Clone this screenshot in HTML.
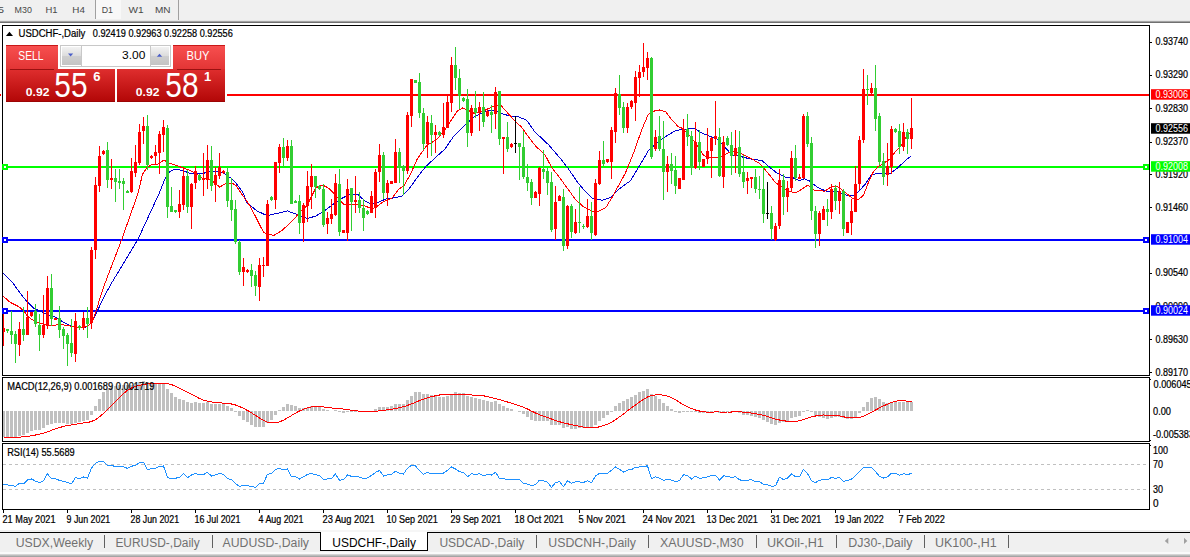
<!DOCTYPE html>
<html><head><meta charset="utf-8"><title>USDCHF-,Daily</title>
<style>html,body{margin:0;padding:0;background:#fff;overflow:hidden}body{width:1190px;height:557px;position:relative}svg{position:absolute;left:0;top:0;display:block}text{font-family:"Liberation Sans",sans-serif;white-space:pre}</style>
</head><body>
<svg width="1190" height="557" viewBox="0 0 1190 557">
<defs>
<linearGradient id="gRed" x1="0" y1="0" x2="0" y2="1"><stop offset="0" stop-color="#f54d4d"/><stop offset="0.45" stop-color="#d62424"/><stop offset="1" stop-color="#b80808"/></linearGradient>
<linearGradient id="gRedTop" x1="0" y1="0" x2="0" y2="1"><stop offset="0" stop-color="#f85050"/><stop offset="1" stop-color="#e23434"/></linearGradient>
<linearGradient id="gRedLow" x1="0" y1="0" x2="0" y2="1"><stop offset="0" stop-color="#df2e2e"/><stop offset="1" stop-color="#b20606"/></linearGradient>
<linearGradient id="gBtn" x1="0" y1="0" x2="0" y2="1"><stop offset="0" stop-color="#f2f2f2"/><stop offset="0.5" stop-color="#dcdcdc"/><stop offset="0.5" stop-color="#cfcfcf"/><stop offset="1" stop-color="#c4c4c4"/></linearGradient>
</defs>
<rect x="0" y="0" width="1190" height="557" fill="#ffffff"/>
<g shape-rendering="crispEdges">
<rect x="0" y="0" width="1190" height="20" fill="#f0f0f0"/>
<rect x="96" y="0" width="25" height="19" fill="#f8f8f8"/>
<rect x="95" y="0" width="1" height="19" fill="#a0a0a0"/>
<rect x="178" y="0" width="1" height="20" fill="#a0a0a0"/>
<rect x="0" y="20" width="1190" height="1" fill="#e6e6e6"/>
<rect x="0" y="21" width="1190" height="1" fill="#a2a2a2"/>
<rect x="0" y="22" width="1190" height="1" fill="#707070"/>
</g>
<text x="-2" y="12.9" font-size="9" fill="#484848" textLength="6" lengthAdjust="spacingAndGlyphs" >5</text>
<text x="14.6" y="12.9" font-size="9" fill="#484848" textLength="17.3" lengthAdjust="spacingAndGlyphs" >M30</text>
<text x="45.4" y="12.9" font-size="9" fill="#484848" textLength="12.1" lengthAdjust="spacingAndGlyphs" >H1</text>
<text x="72.3" y="12.9" font-size="9" fill="#484848" textLength="12.6" lengthAdjust="spacingAndGlyphs" >H4</text>
<text x="101.7" y="12.9" font-size="9" fill="#484848" textLength="11.3" lengthAdjust="spacingAndGlyphs" >D1</text>
<text x="128.6" y="12.9" font-size="9" fill="#484848" textLength="15.1" lengthAdjust="spacingAndGlyphs" >W1</text>
<text x="155" y="12.9" font-size="9" fill="#484848" textLength="15.6" lengthAdjust="spacingAndGlyphs" >MN</text>
<g shape-rendering="crispEdges">
<rect x="227" y="94" width="922" height="2" fill="#ff0000"/>
<rect x="3" y="166" width="1146" height="2" fill="#00ff00"/>
<rect x="3" y="239" width="1146" height="2" fill="#0000ff"/>
<rect x="3" y="310" width="1146" height="2" fill="#0000ff"/>
</g>
<polyline points="3.0,273.3 12.6,282.6 16.9,288.8 25.3,299.7 33.8,308.2 44.0,313.0 55.7,317.4 64.1,322.5 71.7,326.2 79.3,327.9 86.0,327.2 92.0,322.5 97.9,309.8 104.6,295.5 112.2,282.0 137.8,239.6 158.9,194.0 164.8,179.3 169.8,171.7 174.9,169.2 183.3,170.5 188.4,172.9 196.8,173.8 203.6,173.4 208.6,171.4 218.8,171.4 224.0,173.4 231.4,178.5 235.7,182.7 242.9,192.5 246.8,202.4 256.9,210.9 267.0,215.6 277.1,213.4 287.3,210.9 297.4,214.6 307.5,218.5 316.0,216.0 324.4,210.9 334.5,203.3 341.3,198.6 349.7,194.4 358.1,194.8 364.9,200.9 371.6,204.5 380.0,201.6 386.8,198.6 391.9,198.2 402.0,196.1 408.8,189.3 417.2,177.5 425.7,166.5 436.9,156.3 445.3,148.7 453.8,136.0 463.9,125.9 474.3,116.8 484.4,111.7 492.8,110.0 501.3,113.4 509.7,116.0 518.1,116.8 526.6,120.2 534.8,131.8 548.3,144.5 560.0,158.0 568.5,168.9 577.0,181.6 585.4,191.7 592.2,198.0 602.3,200.2 610.7,197.6 616.9,191.0 623.0,186.0 630.4,180.9 640.5,164.0 649.0,149.7 659.0,141.2 667.5,135.3 676.0,130.3 684.4,129.4 694.5,128.2 701.3,132.8 709.7,136.2 718.1,139.5 724.9,147.1 731.6,154.7 740.0,156.4 750.2,158.9 762.0,160.6 768.8,166.5 777.2,173.3 785.7,177.5 792.4,177.5 799.3,180.5 804.4,178.8 809.5,181.0 817.9,187.7 828.0,191.9 838.1,191.9 846.6,195.3 853.3,195.7 858.4,191.9 865.1,184.3 871.1,175.2 877.9,173.0 889.7,173.9 898.1,167.6 904.9,160.9 910.8,156.2" fill="none" stroke="#0000d0" stroke-width="1" shape-rendering="crispEdges"/>
<polyline points="3.4,296.3 10.1,302.3 18.6,306.5 23.6,310.7 27.8,316.6 33.8,320.8 40.5,323.4 50.6,325.5 60.8,324.5 70.9,326.2 81.0,327.6 87.8,325.9 92.0,322.5 96.2,310.7 101.3,293.8 105.5,282.0 121.7,239.6 137.8,194.0 142.5,174.3 147.0,167.5 151.3,165.0 158.0,164.0 164.0,160.0 168.0,162.8 175.0,165.0 183.3,168.0 190.0,170.5 195.0,173.0 202.0,178.0 207.8,179.3 212.0,180.7 219.6,187.0 225.5,183.9 231.5,183.0 235.7,185.2 241.7,194.0 250.0,205.8 256.9,219.3 263.6,232.5 273.8,235.4 282.2,230.3 289.0,224.0 295.7,217.6 299.0,212.6 306.7,205.8 310.9,197.8 316.0,187.6 322.7,185.1 327.8,187.6 332.8,192.2 338.0,198.0 344.0,204.5 354.8,204.1 364.9,205.8 371.6,208.9 376.7,206.7 383.5,201.6 391.9,198.4 398.6,189.3 403.7,186.0 410.5,174.1 417.2,159.0 426.8,145.3 436.9,139.4 445.6,128.6 450.6,121.0 457.4,110.9 462.4,108.0 469.2,110.9 474.3,113.4 481.0,112.2 487.8,108.9 494.5,105.8 501.3,105.8 508.0,113.4 516.5,122.7 521.3,126.8 529.7,138.6 536.5,147.0 544.9,154.6 551.6,167.3 560.0,178.2 566.8,187.5 575.3,199.3 583.7,206.9 592.2,211.1 598.9,211.1 605.7,207.8 612.4,196.8 616.9,188.5 625.3,173.3 633.8,152.2 642.2,128.6 648.2,114.5 654.1,111.1 659.2,109.9 666.0,112.0 671.0,118.7 677.8,126.3 682.7,128.6 689.5,135.3 696.2,143.8 703.0,154.7 708.0,157.8 719.8,157.3 728.3,153.0 735.0,151.4 743.5,154.7 751.9,158.9 760.3,164.0 768.8,174.1 775.5,182.6 787.5,191.0 796.0,192.8 802.7,188.6 807.8,185.2 814.5,190.3 824.6,191.1 831.4,186.9 838.1,186.9 844.9,191.9 851.6,197.8 858.4,199.5 863.5,195.3 867.8,184.0 872.8,172.7 877.9,166.8 884.6,162.6 889.7,159.2 894.8,152.4 899.8,147.4 904.9,138.9 910.0,133.0" fill="none" stroke="#ff0000" stroke-width="1" shape-rendering="crispEdges"/>
<g shape-rendering="crispEdges"><rect x="3" y="313" width="1" height="33" fill="#ff0000"/><rect x="3" y="328" width="2" height="4" fill="#ff0000"/><rect x="7" y="329" width="1" height="4" fill="#32cd32"/><rect x="6" y="329" width="3" height="2" fill="#32cd32"/><rect x="11" y="311" width="1" height="33" fill="#32cd32"/><rect x="10" y="331" width="3" height="4" fill="#32cd32"/><rect x="15" y="331" width="1" height="32" fill="#32cd32"/><rect x="14" y="334" width="3" height="10" fill="#32cd32"/><rect x="19" y="322" width="1" height="34" fill="#ff0000"/><rect x="18" y="329" width="3" height="16" fill="#ff0000"/><rect x="23" y="307" width="1" height="34" fill="#32cd32"/><rect x="22" y="329" width="3" height="6" fill="#32cd32"/><rect x="27" y="291" width="1" height="44" fill="#ff0000"/><rect x="26" y="317" width="3" height="18" fill="#ff0000"/><rect x="31" y="312" width="1" height="5" fill="#ff0000"/><rect x="30" y="312" width="3" height="4" fill="#ff0000"/><rect x="35" y="304" width="1" height="23" fill="#32cd32"/><rect x="34" y="311" width="3" height="13" fill="#32cd32"/><rect x="39" y="314" width="1" height="37" fill="#32cd32"/><rect x="38" y="325" width="3" height="10" fill="#32cd32"/><rect x="43" y="295" width="1" height="43" fill="#ff0000"/><rect x="42" y="325" width="3" height="10" fill="#ff0000"/><rect x="47" y="276" width="1" height="53" fill="#ff0000"/><rect x="46" y="288" width="3" height="38" fill="#ff0000"/><rect x="51" y="274" width="1" height="52" fill="#32cd32"/><rect x="50" y="288" width="3" height="31" fill="#32cd32"/><rect x="55" y="318" width="1" height="2" fill="#ff0000"/><rect x="54" y="318" width="3" height="2" fill="#ff0000"/><rect x="59" y="306" width="1" height="32" fill="#32cd32"/><rect x="58" y="318" width="3" height="12" fill="#32cd32"/><rect x="63" y="327" width="1" height="22" fill="#32cd32"/><rect x="62" y="329" width="3" height="7" fill="#32cd32"/><rect x="67" y="333" width="1" height="33" fill="#32cd32"/><rect x="66" y="335" width="3" height="9" fill="#32cd32"/><rect x="71" y="319" width="1" height="38" fill="#32cd32"/><rect x="70" y="343" width="3" height="10" fill="#32cd32"/><rect x="75" y="313" width="1" height="49" fill="#ff0000"/><rect x="74" y="321" width="3" height="33" fill="#ff0000"/><rect x="79" y="325" width="1" height="5" fill="#32cd32"/><rect x="78" y="326" width="3" height="2" fill="#32cd32"/><rect x="83" y="312" width="1" height="18" fill="#ff0000"/><rect x="82" y="318" width="3" height="10" fill="#ff0000"/><rect x="87" y="307" width="1" height="31" fill="#32cd32"/><rect x="86" y="318" width="3" height="6" fill="#32cd32"/><rect x="91" y="247" width="1" height="82" fill="#ff0000"/><rect x="90" y="250" width="3" height="73" fill="#ff0000"/><rect x="95" y="177" width="1" height="82" fill="#ff0000"/><rect x="94" y="185" width="3" height="65" fill="#ff0000"/><rect x="99" y="146" width="1" height="46" fill="#ff0000"/><rect x="98" y="156" width="3" height="30" fill="#ff0000"/><rect x="103" y="150" width="1" height="5" fill="#ff0000"/><rect x="102" y="151" width="3" height="3" fill="#ff0000"/><rect x="107" y="142" width="1" height="46" fill="#32cd32"/><rect x="106" y="150" width="3" height="30" fill="#32cd32"/><rect x="111" y="159" width="1" height="30" fill="#ff0000"/><rect x="110" y="178" width="3" height="2" fill="#ff0000"/><rect x="115" y="169" width="1" height="33" fill="#32cd32"/><rect x="114" y="178" width="3" height="4" fill="#32cd32"/><rect x="119" y="169" width="1" height="20" fill="#32cd32"/><rect x="118" y="181" width="3" height="2" fill="#32cd32"/><rect x="123" y="178" width="1" height="32" fill="#32cd32"/><rect x="122" y="181" width="3" height="3" fill="#32cd32"/><rect x="127" y="190" width="1" height="3" fill="#32cd32"/><rect x="126" y="191" width="3" height="2" fill="#32cd32"/><rect x="131" y="158" width="1" height="35" fill="#ff0000"/><rect x="130" y="171" width="3" height="21" fill="#ff0000"/><rect x="135" y="145" width="1" height="32" fill="#ff0000"/><rect x="134" y="162" width="3" height="11" fill="#ff0000"/><rect x="139" y="124" width="1" height="41" fill="#ff0000"/><rect x="138" y="132" width="3" height="31" fill="#ff0000"/><rect x="143" y="117" width="1" height="27" fill="#ff0000"/><rect x="142" y="126" width="3" height="5" fill="#ff0000"/><rect x="147" y="115" width="1" height="55" fill="#32cd32"/><rect x="146" y="126" width="3" height="39" fill="#32cd32"/><rect x="151" y="155" width="1" height="4" fill="#ff0000"/><rect x="150" y="156" width="3" height="2" fill="#ff0000"/><rect x="155" y="145" width="1" height="20" fill="#ff0000"/><rect x="154" y="152" width="3" height="4" fill="#ff0000"/><rect x="159" y="131" width="1" height="43" fill="#ff0000"/><rect x="158" y="134" width="3" height="19" fill="#ff0000"/><rect x="163" y="120" width="1" height="32" fill="#ff0000"/><rect x="162" y="127" width="3" height="8" fill="#ff0000"/><rect x="167" y="125" width="1" height="93" fill="#32cd32"/><rect x="166" y="128" width="3" height="79" fill="#32cd32"/><rect x="171" y="187" width="1" height="25" fill="#32cd32"/><rect x="170" y="206" width="3" height="6" fill="#32cd32"/><rect x="175" y="210" width="1" height="3" fill="#32cd32"/><rect x="174" y="210" width="3" height="2" fill="#32cd32"/><rect x="179" y="190" width="1" height="28" fill="#ff0000"/><rect x="178" y="204" width="3" height="8" fill="#ff0000"/><rect x="183" y="167" width="1" height="43" fill="#ff0000"/><rect x="182" y="176" width="3" height="29" fill="#ff0000"/><rect x="187" y="170" width="1" height="43" fill="#32cd32"/><rect x="186" y="176" width="3" height="31" fill="#32cd32"/><rect x="191" y="183" width="1" height="46" fill="#ff0000"/><rect x="190" y="184" width="3" height="23" fill="#ff0000"/><rect x="195" y="166" width="1" height="23" fill="#ff0000"/><rect x="194" y="171" width="3" height="12" fill="#ff0000"/><rect x="199" y="174" width="1" height="7" fill="#32cd32"/><rect x="198" y="175" width="3" height="5" fill="#32cd32"/><rect x="203" y="153" width="1" height="43" fill="#ff0000"/><rect x="202" y="178" width="3" height="2" fill="#ff0000"/><rect x="207" y="145" width="1" height="44" fill="#ff0000"/><rect x="206" y="160" width="3" height="20" fill="#ff0000"/><rect x="211" y="146" width="1" height="45" fill="#32cd32"/><rect x="210" y="160" width="3" height="26" fill="#32cd32"/><rect x="215" y="167" width="1" height="35" fill="#ff0000"/><rect x="214" y="175" width="3" height="10" fill="#ff0000"/><rect x="219" y="153" width="1" height="26" fill="#ff0000"/><rect x="218" y="167" width="3" height="9" fill="#ff0000"/><rect x="223" y="170" width="1" height="4" fill="#ff0000"/><rect x="222" y="171" width="3" height="2" fill="#ff0000"/><rect x="227" y="167" width="1" height="40" fill="#32cd32"/><rect x="226" y="172" width="3" height="29" fill="#32cd32"/><rect x="231" y="178" width="1" height="43" fill="#32cd32"/><rect x="230" y="200" width="3" height="10" fill="#32cd32"/><rect x="235" y="200" width="1" height="44" fill="#32cd32"/><rect x="234" y="209" width="3" height="33" fill="#32cd32"/><rect x="239" y="240" width="1" height="35" fill="#32cd32"/><rect x="238" y="242" width="3" height="30" fill="#32cd32"/><rect x="243" y="258" width="1" height="28" fill="#ff0000"/><rect x="242" y="267" width="3" height="5" fill="#ff0000"/><rect x="247" y="269" width="1" height="4" fill="#ff0000"/><rect x="246" y="270" width="3" height="2" fill="#ff0000"/><rect x="251" y="264" width="1" height="23" fill="#32cd32"/><rect x="250" y="270" width="3" height="6" fill="#32cd32"/><rect x="255" y="271" width="1" height="25" fill="#32cd32"/><rect x="254" y="275" width="3" height="11" fill="#32cd32"/><rect x="259" y="258" width="1" height="43" fill="#ff0000"/><rect x="258" y="265" width="3" height="22" fill="#ff0000"/><rect x="263" y="257" width="1" height="20" fill="#ff0000"/><rect x="262" y="265" width="3" height="1" fill="#ff0000"/><rect x="267" y="200" width="1" height="66" fill="#ff0000"/><rect x="266" y="204" width="3" height="62" fill="#ff0000"/><rect x="271" y="196" width="1" height="5" fill="#32cd32"/><rect x="270" y="197" width="3" height="3" fill="#32cd32"/><rect x="275" y="162" width="1" height="47" fill="#ff0000"/><rect x="274" y="162" width="3" height="38" fill="#ff0000"/><rect x="279" y="144" width="1" height="29" fill="#ff0000"/><rect x="278" y="147" width="3" height="16" fill="#ff0000"/><rect x="283" y="138" width="1" height="29" fill="#32cd32"/><rect x="282" y="147" width="3" height="11" fill="#32cd32"/><rect x="287" y="140" width="1" height="21" fill="#ff0000"/><rect x="286" y="146" width="3" height="12" fill="#ff0000"/><rect x="291" y="140" width="1" height="64" fill="#32cd32"/><rect x="290" y="146" width="3" height="58" fill="#32cd32"/><rect x="295" y="200" width="1" height="3" fill="#32cd32"/><rect x="294" y="201" width="3" height="2" fill="#32cd32"/><rect x="299" y="195" width="1" height="39" fill="#32cd32"/><rect x="298" y="201" width="3" height="22" fill="#32cd32"/><rect x="303" y="203" width="1" height="39" fill="#ff0000"/><rect x="302" y="205" width="3" height="18" fill="#ff0000"/><rect x="307" y="171" width="1" height="51" fill="#ff0000"/><rect x="306" y="186" width="3" height="20" fill="#ff0000"/><rect x="311" y="164" width="1" height="45" fill="#ff0000"/><rect x="310" y="176" width="3" height="11" fill="#ff0000"/><rect x="315" y="176" width="1" height="22" fill="#32cd32"/><rect x="314" y="176" width="3" height="11" fill="#32cd32"/><rect x="319" y="185" width="1" height="5" fill="#32cd32"/><rect x="318" y="186" width="3" height="3" fill="#32cd32"/><rect x="323" y="184" width="1" height="43" fill="#32cd32"/><rect x="322" y="189" width="3" height="36" fill="#32cd32"/><rect x="327" y="212" width="1" height="22" fill="#ff0000"/><rect x="326" y="218" width="3" height="6" fill="#ff0000"/><rect x="331" y="199" width="1" height="25" fill="#ff0000"/><rect x="330" y="214" width="3" height="5" fill="#ff0000"/><rect x="335" y="174" width="1" height="42" fill="#ff0000"/><rect x="334" y="183" width="3" height="32" fill="#ff0000"/><rect x="339" y="169" width="1" height="67" fill="#32cd32"/><rect x="338" y="184" width="3" height="48" fill="#32cd32"/><rect x="343" y="230" width="1" height="3" fill="#ff0000"/><rect x="342" y="230" width="3" height="3" fill="#ff0000"/><rect x="347" y="179" width="1" height="62" fill="#ff0000"/><rect x="346" y="189" width="3" height="44" fill="#ff0000"/><rect x="351" y="188" width="1" height="43" fill="#32cd32"/><rect x="350" y="188" width="3" height="14" fill="#32cd32"/><rect x="355" y="176" width="1" height="37" fill="#ff0000"/><rect x="354" y="200" width="3" height="2" fill="#ff0000"/><rect x="359" y="192" width="1" height="21" fill="#32cd32"/><rect x="358" y="200" width="3" height="8" fill="#32cd32"/><rect x="363" y="199" width="1" height="32" fill="#32cd32"/><rect x="362" y="208" width="3" height="10" fill="#32cd32"/><rect x="367" y="210" width="1" height="5" fill="#32cd32"/><rect x="366" y="211" width="3" height="3" fill="#32cd32"/><rect x="371" y="191" width="1" height="22" fill="#ff0000"/><rect x="370" y="196" width="3" height="17" fill="#ff0000"/><rect x="375" y="169" width="1" height="49" fill="#ff0000"/><rect x="374" y="172" width="3" height="36" fill="#ff0000"/><rect x="379" y="144" width="1" height="38" fill="#ff0000"/><rect x="378" y="155" width="3" height="17" fill="#ff0000"/><rect x="383" y="152" width="1" height="47" fill="#32cd32"/><rect x="382" y="155" width="3" height="38" fill="#32cd32"/><rect x="387" y="180" width="1" height="26" fill="#ff0000"/><rect x="386" y="183" width="3" height="10" fill="#ff0000"/><rect x="391" y="181" width="1" height="3" fill="#ff0000"/><rect x="390" y="181" width="3" height="3" fill="#ff0000"/><rect x="395" y="139" width="1" height="44" fill="#ff0000"/><rect x="394" y="152" width="3" height="31" fill="#ff0000"/><rect x="399" y="148" width="1" height="35" fill="#32cd32"/><rect x="398" y="152" width="3" height="16" fill="#32cd32"/><rect x="403" y="165" width="1" height="30" fill="#32cd32"/><rect x="402" y="166" width="3" height="5" fill="#32cd32"/><rect x="407" y="112" width="1" height="62" fill="#ff0000"/><rect x="406" y="115" width="3" height="56" fill="#ff0000"/><rect x="411" y="79" width="1" height="48" fill="#ff0000"/><rect x="410" y="79" width="3" height="37" fill="#ff0000"/><rect x="415" y="80" width="1" height="3" fill="#32cd32"/><rect x="414" y="80" width="3" height="3" fill="#32cd32"/><rect x="419" y="73" width="1" height="45" fill="#32cd32"/><rect x="418" y="82" width="3" height="31" fill="#32cd32"/><rect x="423" y="108" width="1" height="42" fill="#32cd32"/><rect x="422" y="113" width="3" height="31" fill="#32cd32"/><rect x="427" y="116" width="1" height="42" fill="#ff0000"/><rect x="426" y="122" width="3" height="22" fill="#ff0000"/><rect x="431" y="115" width="1" height="41" fill="#32cd32"/><rect x="430" y="123" width="3" height="12" fill="#32cd32"/><rect x="435" y="125" width="1" height="28" fill="#ff0000"/><rect x="434" y="132" width="3" height="3" fill="#ff0000"/><rect x="439" y="131" width="1" height="5" fill="#32cd32"/><rect x="438" y="132" width="3" height="3" fill="#32cd32"/><rect x="443" y="103" width="1" height="35" fill="#ff0000"/><rect x="442" y="127" width="3" height="8" fill="#ff0000"/><rect x="447" y="96" width="1" height="32" fill="#ff0000"/><rect x="446" y="102" width="3" height="26" fill="#ff0000"/><rect x="451" y="57" width="1" height="55" fill="#ff0000"/><rect x="450" y="65" width="3" height="38" fill="#ff0000"/><rect x="455" y="47" width="1" height="43" fill="#32cd32"/><rect x="454" y="65" width="3" height="13" fill="#32cd32"/><rect x="459" y="69" width="1" height="40" fill="#32cd32"/><rect x="458" y="78" width="3" height="18" fill="#32cd32"/><rect x="463" y="97" width="1" height="5" fill="#32cd32"/><rect x="462" y="98" width="3" height="3" fill="#32cd32"/><rect x="467" y="89" width="1" height="58" fill="#32cd32"/><rect x="466" y="99" width="3" height="34" fill="#32cd32"/><rect x="471" y="105" width="1" height="31" fill="#ff0000"/><rect x="470" y="108" width="3" height="25" fill="#ff0000"/><rect x="475" y="91" width="1" height="27" fill="#32cd32"/><rect x="474" y="108" width="3" height="5" fill="#32cd32"/><rect x="479" y="102" width="1" height="29" fill="#ff0000"/><rect x="478" y="107" width="3" height="6" fill="#ff0000"/><rect x="483" y="92" width="1" height="35" fill="#32cd32"/><rect x="482" y="107" width="3" height="15" fill="#32cd32"/><rect x="487" y="110" width="1" height="7" fill="#ff0000"/><rect x="486" y="111" width="3" height="5" fill="#ff0000"/><rect x="491" y="105" width="1" height="28" fill="#32cd32"/><rect x="490" y="112" width="3" height="3" fill="#32cd32"/><rect x="495" y="87" width="1" height="42" fill="#ff0000"/><rect x="494" y="92" width="3" height="22" fill="#ff0000"/><rect x="499" y="91" width="1" height="54" fill="#32cd32"/><rect x="498" y="91" width="3" height="48" fill="#32cd32"/><rect x="503" y="137" width="1" height="37" fill="#ff0000"/><rect x="502" y="137" width="3" height="2" fill="#ff0000"/><rect x="507" y="122" width="1" height="30" fill="#32cd32"/><rect x="506" y="137" width="3" height="12" fill="#32cd32"/><rect x="511" y="143" width="1" height="5" fill="#ff0000"/><rect x="510" y="144" width="3" height="3" fill="#ff0000"/><rect x="515" y="116" width="1" height="37" fill="#000000"/><rect x="514" y="143" width="3" height="1" fill="#000000"/><rect x="519" y="143" width="1" height="37" fill="#32cd32"/><rect x="518" y="143" width="3" height="4" fill="#32cd32"/><rect x="523" y="131" width="1" height="48" fill="#32cd32"/><rect x="522" y="147" width="3" height="30" fill="#32cd32"/><rect x="527" y="164" width="1" height="27" fill="#32cd32"/><rect x="526" y="177" width="3" height="6" fill="#32cd32"/><rect x="531" y="179" width="1" height="26" fill="#32cd32"/><rect x="530" y="182" width="3" height="16" fill="#32cd32"/><rect x="535" y="191" width="1" height="7" fill="#ff0000"/><rect x="534" y="192" width="3" height="6" fill="#ff0000"/><rect x="539" y="167" width="1" height="39" fill="#ff0000"/><rect x="538" y="168" width="3" height="26" fill="#ff0000"/><rect x="543" y="150" width="1" height="29" fill="#32cd32"/><rect x="542" y="169" width="3" height="3" fill="#32cd32"/><rect x="547" y="168" width="1" height="27" fill="#32cd32"/><rect x="546" y="171" width="3" height="12" fill="#32cd32"/><rect x="551" y="172" width="1" height="60" fill="#32cd32"/><rect x="550" y="182" width="3" height="48" fill="#32cd32"/><rect x="555" y="186" width="1" height="54" fill="#ff0000"/><rect x="554" y="202" width="3" height="27" fill="#ff0000"/><rect x="559" y="195" width="1" height="6" fill="#ff0000"/><rect x="558" y="196" width="3" height="5" fill="#ff0000"/><rect x="563" y="189" width="1" height="62" fill="#32cd32"/><rect x="562" y="197" width="3" height="49" fill="#32cd32"/><rect x="567" y="205" width="1" height="44" fill="#ff0000"/><rect x="566" y="206" width="3" height="40" fill="#ff0000"/><rect x="571" y="204" width="1" height="34" fill="#32cd32"/><rect x="570" y="206" width="3" height="26" fill="#32cd32"/><rect x="575" y="209" width="1" height="25" fill="#ff0000"/><rect x="574" y="222" width="3" height="11" fill="#ff0000"/><rect x="579" y="187" width="1" height="46" fill="#32cd32"/><rect x="578" y="222" width="3" height="1" fill="#32cd32"/><rect x="583" y="224" width="1" height="5" fill="#32cd32"/><rect x="582" y="226" width="3" height="1" fill="#32cd32"/><rect x="587" y="199" width="1" height="29" fill="#ff0000"/><rect x="586" y="216" width="3" height="11" fill="#ff0000"/><rect x="591" y="202" width="1" height="38" fill="#32cd32"/><rect x="590" y="216" width="3" height="17" fill="#32cd32"/><rect x="595" y="179" width="1" height="57" fill="#ff0000"/><rect x="594" y="183" width="3" height="52" fill="#ff0000"/><rect x="599" y="151" width="1" height="34" fill="#ff0000"/><rect x="598" y="160" width="3" height="24" fill="#ff0000"/><rect x="603" y="141" width="1" height="25" fill="#32cd32"/><rect x="602" y="160" width="3" height="4" fill="#32cd32"/><rect x="607" y="159" width="1" height="4" fill="#ff0000"/><rect x="606" y="159" width="3" height="3" fill="#ff0000"/><rect x="611" y="127" width="1" height="52" fill="#ff0000"/><rect x="610" y="130" width="3" height="32" fill="#ff0000"/><rect x="615" y="88" width="1" height="55" fill="#ff0000"/><rect x="614" y="93" width="3" height="39" fill="#ff0000"/><rect x="619" y="75" width="1" height="40" fill="#32cd32"/><rect x="618" y="94" width="3" height="14" fill="#32cd32"/><rect x="623" y="102" width="1" height="31" fill="#32cd32"/><rect x="622" y="107" width="3" height="21" fill="#32cd32"/><rect x="627" y="103" width="1" height="30" fill="#ff0000"/><rect x="626" y="107" width="3" height="21" fill="#ff0000"/><rect x="631" y="100" width="1" height="9" fill="#ff0000"/><rect x="630" y="101" width="3" height="6" fill="#ff0000"/><rect x="635" y="71" width="1" height="50" fill="#ff0000"/><rect x="634" y="77" width="3" height="26" fill="#ff0000"/><rect x="639" y="65" width="1" height="32" fill="#ff0000"/><rect x="638" y="72" width="3" height="6" fill="#ff0000"/><rect x="643" y="43" width="1" height="34" fill="#ff0000"/><rect x="642" y="67" width="3" height="5" fill="#ff0000"/><rect x="647" y="52" width="1" height="28" fill="#ff0000"/><rect x="646" y="58" width="3" height="10" fill="#ff0000"/><rect x="651" y="57" width="1" height="102" fill="#32cd32"/><rect x="650" y="58" width="3" height="99" fill="#32cd32"/><rect x="655" y="130" width="1" height="21" fill="#ff0000"/><rect x="654" y="137" width="3" height="12" fill="#ff0000"/><rect x="659" y="116" width="1" height="35" fill="#32cd32"/><rect x="658" y="136" width="3" height="13" fill="#32cd32"/><rect x="663" y="121" width="1" height="79" fill="#32cd32"/><rect x="662" y="149" width="3" height="23" fill="#32cd32"/><rect x="667" y="156" width="1" height="36" fill="#ff0000"/><rect x="666" y="164" width="3" height="8" fill="#ff0000"/><rect x="671" y="153" width="1" height="31" fill="#32cd32"/><rect x="670" y="164" width="3" height="7" fill="#32cd32"/><rect x="675" y="156" width="1" height="38" fill="#32cd32"/><rect x="674" y="170" width="3" height="16" fill="#32cd32"/><rect x="679" y="178" width="1" height="11" fill="#ff0000"/><rect x="678" y="178" width="3" height="11" fill="#ff0000"/><rect x="683" y="119" width="1" height="61" fill="#ff0000"/><rect x="682" y="129" width="3" height="51" fill="#ff0000"/><rect x="687" y="114" width="1" height="32" fill="#32cd32"/><rect x="686" y="129" width="3" height="8" fill="#32cd32"/><rect x="691" y="131" width="1" height="44" fill="#32cd32"/><rect x="690" y="136" width="3" height="32" fill="#32cd32"/><rect x="695" y="122" width="1" height="47" fill="#ff0000"/><rect x="694" y="142" width="3" height="26" fill="#ff0000"/><rect x="699" y="130" width="1" height="40" fill="#32cd32"/><rect x="698" y="142" width="3" height="20" fill="#32cd32"/><rect x="703" y="159" width="1" height="8" fill="#ff0000"/><rect x="702" y="159" width="3" height="8" fill="#ff0000"/><rect x="707" y="128" width="1" height="36" fill="#ff0000"/><rect x="706" y="151" width="3" height="8" fill="#ff0000"/><rect x="711" y="137" width="1" height="41" fill="#ff0000"/><rect x="710" y="138" width="3" height="13" fill="#ff0000"/><rect x="715" y="101" width="1" height="44" fill="#ff0000"/><rect x="714" y="136" width="3" height="3" fill="#ff0000"/><rect x="719" y="128" width="1" height="49" fill="#32cd32"/><rect x="718" y="137" width="3" height="39" fill="#32cd32"/><rect x="723" y="136" width="1" height="52" fill="#ff0000"/><rect x="722" y="142" width="3" height="35" fill="#ff0000"/><rect x="727" y="136" width="1" height="10" fill="#32cd32"/><rect x="726" y="138" width="3" height="7" fill="#32cd32"/><rect x="731" y="132" width="1" height="43" fill="#32cd32"/><rect x="730" y="145" width="3" height="11" fill="#32cd32"/><rect x="735" y="130" width="1" height="43" fill="#ff0000"/><rect x="734" y="148" width="3" height="8" fill="#ff0000"/><rect x="739" y="131" width="1" height="46" fill="#32cd32"/><rect x="738" y="147" width="3" height="27" fill="#32cd32"/><rect x="743" y="155" width="1" height="33" fill="#32cd32"/><rect x="742" y="172" width="3" height="10" fill="#32cd32"/><rect x="747" y="172" width="1" height="22" fill="#ff0000"/><rect x="746" y="178" width="3" height="3" fill="#ff0000"/><rect x="751" y="177" width="1" height="11" fill="#ff0000"/><rect x="750" y="177" width="3" height="2" fill="#ff0000"/><rect x="755" y="169" width="1" height="24" fill="#32cd32"/><rect x="754" y="177" width="3" height="12" fill="#32cd32"/><rect x="759" y="176" width="1" height="23" fill="#32cd32"/><rect x="758" y="189" width="3" height="1" fill="#32cd32"/><rect x="763" y="167" width="1" height="56" fill="#32cd32"/><rect x="762" y="189" width="3" height="25" fill="#32cd32"/><rect x="767" y="182" width="1" height="37" fill="#000000"/><rect x="766" y="213" width="3" height="1" fill="#000000"/><rect x="771" y="206" width="1" height="34" fill="#32cd32"/><rect x="770" y="213" width="3" height="16" fill="#32cd32"/><rect x="775" y="223" width="1" height="18" fill="#ff0000"/><rect x="774" y="226" width="3" height="14" fill="#ff0000"/><rect x="779" y="169" width="1" height="60" fill="#ff0000"/><rect x="778" y="180" width="3" height="46" fill="#ff0000"/><rect x="783" y="174" width="1" height="41" fill="#32cd32"/><rect x="782" y="180" width="3" height="17" fill="#32cd32"/><rect x="787" y="181" width="1" height="31" fill="#ff0000"/><rect x="786" y="188" width="3" height="9" fill="#ff0000"/><rect x="791" y="151" width="1" height="41" fill="#ff0000"/><rect x="790" y="158" width="3" height="30" fill="#ff0000"/><rect x="795" y="145" width="1" height="36" fill="#32cd32"/><rect x="794" y="158" width="3" height="20" fill="#32cd32"/><rect x="799" y="174" width="1" height="5" fill="#ff0000"/><rect x="798" y="177" width="3" height="2" fill="#ff0000"/><rect x="803" y="114" width="1" height="65" fill="#ff0000"/><rect x="802" y="116" width="3" height="62" fill="#ff0000"/><rect x="807" y="112" width="1" height="35" fill="#32cd32"/><rect x="806" y="116" width="3" height="28" fill="#32cd32"/><rect x="811" y="137" width="1" height="83" fill="#32cd32"/><rect x="810" y="143" width="3" height="68" fill="#32cd32"/><rect x="815" y="206" width="1" height="42" fill="#32cd32"/><rect x="814" y="211" width="3" height="23" fill="#32cd32"/><rect x="819" y="211" width="1" height="35" fill="#ff0000"/><rect x="818" y="213" width="3" height="21" fill="#ff0000"/><rect x="823" y="206" width="1" height="14" fill="#ff0000"/><rect x="822" y="209" width="3" height="11" fill="#ff0000"/><rect x="827" y="199" width="1" height="27" fill="#32cd32"/><rect x="826" y="209" width="3" height="3" fill="#32cd32"/><rect x="831" y="184" width="1" height="35" fill="#ff0000"/><rect x="830" y="189" width="3" height="23" fill="#ff0000"/><rect x="835" y="185" width="1" height="25" fill="#32cd32"/><rect x="834" y="188" width="3" height="13" fill="#32cd32"/><rect x="839" y="182" width="1" height="32" fill="#ff0000"/><rect x="838" y="191" width="3" height="10" fill="#ff0000"/><rect x="843" y="189" width="1" height="47" fill="#32cd32"/><rect x="842" y="191" width="3" height="38" fill="#32cd32"/><rect x="847" y="222" width="1" height="11" fill="#ff0000"/><rect x="846" y="222" width="3" height="11" fill="#ff0000"/><rect x="851" y="199" width="1" height="36" fill="#ff0000"/><rect x="850" y="211" width="3" height="12" fill="#ff0000"/><rect x="855" y="166" width="1" height="46" fill="#ff0000"/><rect x="854" y="184" width="3" height="28" fill="#ff0000"/><rect x="859" y="136" width="1" height="54" fill="#ff0000"/><rect x="858" y="140" width="3" height="44" fill="#ff0000"/><rect x="863" y="69" width="1" height="74" fill="#ff0000"/><rect x="862" y="89" width="3" height="51" fill="#ff0000"/><rect x="867" y="75" width="1" height="30" fill="#32cd32"/><rect x="866" y="89" width="3" height="1" fill="#32cd32"/><rect x="871" y="83" width="1" height="11" fill="#ff0000"/><rect x="870" y="88" width="3" height="5" fill="#ff0000"/><rect x="875" y="65" width="1" height="66" fill="#32cd32"/><rect x="874" y="88" width="3" height="31" fill="#32cd32"/><rect x="879" y="113" width="1" height="52" fill="#32cd32"/><rect x="878" y="116" width="3" height="46" fill="#32cd32"/><rect x="883" y="153" width="1" height="32" fill="#32cd32"/><rect x="882" y="161" width="3" height="16" fill="#32cd32"/><rect x="887" y="143" width="1" height="43" fill="#ff0000"/><rect x="886" y="166" width="3" height="9" fill="#ff0000"/><rect x="891" y="126" width="1" height="48" fill="#ff0000"/><rect x="890" y="129" width="3" height="38" fill="#ff0000"/><rect x="895" y="128" width="1" height="5" fill="#32cd32"/><rect x="894" y="129" width="3" height="3" fill="#32cd32"/><rect x="899" y="124" width="1" height="30" fill="#32cd32"/><rect x="898" y="131" width="3" height="16" fill="#32cd32"/><rect x="903" y="123" width="1" height="28" fill="#ff0000"/><rect x="902" y="132" width="3" height="15" fill="#ff0000"/><rect x="907" y="129" width="1" height="25" fill="#32cd32"/><rect x="906" y="132" width="3" height="7" fill="#32cd32"/><rect x="911" y="98" width="1" height="51" fill="#ff0000"/><rect x="910" y="128" width="3" height="11" fill="#ff0000"/></g>
<g shape-rendering="crispEdges"><rect x="3" y="411.0" width="2" height="26.3" fill="#c0c0c0"/><rect x="6" y="411.0" width="3" height="26.2" fill="#c0c0c0"/><rect x="10" y="411.0" width="3" height="26.0" fill="#c0c0c0"/><rect x="14" y="411.0" width="3" height="26.2" fill="#c0c0c0"/><rect x="18" y="411.0" width="3" height="25.1" fill="#c0c0c0"/><rect x="22" y="411.0" width="3" height="24.3" fill="#c0c0c0"/><rect x="26" y="411.0" width="3" height="22.3" fill="#c0c0c0"/><rect x="30" y="411.0" width="3" height="20.2" fill="#c0c0c0"/><rect x="34" y="411.0" width="3" height="19.0" fill="#c0c0c0"/><rect x="38" y="411.0" width="3" height="18.6" fill="#c0c0c0"/><rect x="42" y="411.0" width="3" height="17.4" fill="#c0c0c0"/><rect x="46" y="411.0" width="3" height="14.1" fill="#c0c0c0"/><rect x="50" y="411.0" width="3" height="13.2" fill="#c0c0c0"/><rect x="54" y="411.0" width="3" height="12.2" fill="#c0c0c0"/><rect x="58" y="411.0" width="3" height="12.1" fill="#c0c0c0"/><rect x="62" y="411.0" width="3" height="12.2" fill="#c0c0c0"/><rect x="66" y="411.0" width="3" height="12.6" fill="#c0c0c0"/><rect x="70" y="411.0" width="3" height="13.3" fill="#c0c0c0"/><rect x="74" y="411.0" width="3" height="11.8" fill="#c0c0c0"/><rect x="78" y="411.0" width="3" height="11.0" fill="#c0c0c0"/><rect x="82" y="411.0" width="3" height="9.5" fill="#c0c0c0"/><rect x="86" y="411.0" width="3" height="8.7" fill="#c0c0c0"/><rect x="90" y="411.0" width="3" height="3.5" fill="#c0c0c0"/><rect x="94" y="406.4" width="3" height="4.6" fill="#c0c0c0"/><rect x="98" y="398.5" width="3" height="12.5" fill="#c0c0c0"/><rect x="102" y="392.1" width="3" height="18.9" fill="#c0c0c0"/><rect x="106" y="389.0" width="3" height="22.0" fill="#c0c0c0"/><rect x="110" y="386.7" width="3" height="24.3" fill="#c0c0c0"/><rect x="114" y="385.5" width="3" height="25.5" fill="#c0c0c0"/><rect x="118" y="384.8" width="3" height="26.2" fill="#c0c0c0"/><rect x="122" y="384.7" width="3" height="26.3" fill="#c0c0c0"/><rect x="126" y="385.4" width="3" height="25.6" fill="#c0c0c0"/><rect x="130" y="385.0" width="3" height="26.0" fill="#c0c0c0"/><rect x="134" y="384.4" width="3" height="26.6" fill="#c0c0c0"/><rect x="138" y="382.4" width="3" height="28.6" fill="#c0c0c0"/><rect x="142" y="380.8" width="3" height="30.2" fill="#c0c0c0"/><rect x="146" y="382.3" width="3" height="28.7" fill="#c0c0c0"/><rect x="150" y="383.2" width="3" height="27.8" fill="#c0c0c0"/><rect x="154" y="384.0" width="3" height="27.0" fill="#c0c0c0"/><rect x="158" y="383.8" width="3" height="27.2" fill="#c0c0c0"/><rect x="162" y="383.6" width="3" height="27.4" fill="#c0c0c0"/><rect x="166" y="388.6" width="3" height="22.4" fill="#c0c0c0"/><rect x="170" y="393.0" width="3" height="18.0" fill="#c0c0c0"/><rect x="174" y="396.6" width="3" height="14.4" fill="#c0c0c0"/><rect x="178" y="399.2" width="3" height="11.8" fill="#c0c0c0"/><rect x="182" y="399.7" width="3" height="11.3" fill="#c0c0c0"/><rect x="186" y="402.0" width="3" height="9.0" fill="#c0c0c0"/><rect x="190" y="402.6" width="3" height="8.4" fill="#c0c0c0"/><rect x="194" y="402.3" width="3" height="8.7" fill="#c0c0c0"/><rect x="198" y="402.8" width="3" height="8.2" fill="#c0c0c0"/><rect x="202" y="403.1" width="3" height="7.9" fill="#c0c0c0"/><rect x="206" y="402.4" width="3" height="8.6" fill="#c0c0c0"/><rect x="210" y="403.5" width="3" height="7.5" fill="#c0c0c0"/><rect x="214" y="403.7" width="3" height="7.3" fill="#c0c0c0"/><rect x="218" y="403.5" width="3" height="7.5" fill="#c0c0c0"/><rect x="222" y="403.7" width="3" height="7.3" fill="#c0c0c0"/><rect x="226" y="405.8" width="3" height="5.2" fill="#c0c0c0"/><rect x="230" y="407.9" width="3" height="3.1" fill="#c0c0c0"/><rect x="234" y="411.0" width="3" height="0.6" fill="#c0c0c0"/><rect x="238" y="411.0" width="3" height="5.3" fill="#c0c0c0"/><rect x="242" y="411.0" width="3" height="8.6" fill="#c0c0c0"/><rect x="246" y="411.0" width="3" height="11.2" fill="#c0c0c0"/><rect x="250" y="411.0" width="3" height="13.6" fill="#c0c0c0"/><rect x="254" y="411.0" width="3" height="15.8" fill="#c0c0c0"/><rect x="258" y="411.0" width="3" height="16.1" fill="#c0c0c0"/><rect x="262" y="411.0" width="3" height="16.2" fill="#c0c0c0"/><rect x="266" y="411.0" width="3" height="12.4" fill="#c0c0c0"/><rect x="270" y="411.0" width="3" height="9.1" fill="#c0c0c0"/><rect x="274" y="411.0" width="3" height="4.1" fill="#c0c0c0"/><rect x="278" y="410.2" width="3" height="0.8" fill="#c0c0c0"/><rect x="282" y="407.1" width="3" height="3.9" fill="#c0c0c0"/><rect x="286" y="403.9" width="3" height="7.1" fill="#c0c0c0"/><rect x="290" y="405.0" width="3" height="6.0" fill="#c0c0c0"/><rect x="294" y="405.9" width="3" height="5.1" fill="#c0c0c0"/><rect x="298" y="407.8" width="3" height="3.2" fill="#c0c0c0"/><rect x="302" y="408.3" width="3" height="2.7" fill="#c0c0c0"/><rect x="306" y="407.6" width="3" height="3.4" fill="#c0c0c0"/><rect x="310" y="406.4" width="3" height="4.6" fill="#c0c0c0"/><rect x="314" y="406.3" width="3" height="4.7" fill="#c0c0c0"/><rect x="318" y="406.3" width="3" height="4.7" fill="#c0c0c0"/><rect x="322" y="408.5" width="3" height="2.5" fill="#c0c0c0"/><rect x="326" y="409.9" width="3" height="1.1" fill="#c0c0c0"/><rect x="330" y="410.7" width="3" height="0.5" fill="#c0c0c0"/><rect x="334" y="409.5" width="3" height="1.5" fill="#c0c0c0"/><rect x="338" y="411.0" width="3" height="0.6" fill="#c0c0c0"/><rect x="342" y="411.0" width="3" height="2.0" fill="#c0c0c0"/><rect x="346" y="411.0" width="3" height="0.7" fill="#c0c0c0"/><rect x="350" y="411.0" width="3" height="0.5" fill="#c0c0c0"/><rect x="354" y="411.0" width="3" height="0.5" fill="#c0c0c0"/><rect x="358" y="411.0" width="3" height="0.5" fill="#c0c0c0"/><rect x="362" y="411.0" width="3" height="1.0" fill="#c0c0c0"/><rect x="366" y="411.0" width="3" height="1.4" fill="#c0c0c0"/><rect x="370" y="411.0" width="3" height="0.5" fill="#c0c0c0"/><rect x="374" y="409.4" width="3" height="1.6" fill="#c0c0c0"/><rect x="378" y="406.8" width="3" height="4.2" fill="#c0c0c0"/><rect x="382" y="407.1" width="3" height="3.9" fill="#c0c0c0"/><rect x="386" y="406.7" width="3" height="4.3" fill="#c0c0c0"/><rect x="390" y="406.4" width="3" height="4.6" fill="#c0c0c0"/><rect x="394" y="404.4" width="3" height="6.6" fill="#c0c0c0"/><rect x="398" y="403.9" width="3" height="7.1" fill="#c0c0c0"/><rect x="402" y="403.8" width="3" height="7.2" fill="#c0c0c0"/><rect x="406" y="400.4" width="3" height="10.6" fill="#c0c0c0"/><rect x="410" y="395.7" width="3" height="15.3" fill="#c0c0c0"/><rect x="414" y="392.4" width="3" height="18.6" fill="#c0c0c0"/><rect x="418" y="391.9" width="3" height="19.1" fill="#c0c0c0"/><rect x="422" y="393.6" width="3" height="17.4" fill="#c0c0c0"/><rect x="426" y="393.7" width="3" height="17.3" fill="#c0c0c0"/><rect x="430" y="394.8" width="3" height="16.2" fill="#c0c0c0"/><rect x="434" y="395.7" width="3" height="15.3" fill="#c0c0c0"/><rect x="438" y="396.8" width="3" height="14.2" fill="#c0c0c0"/><rect x="442" y="397.3" width="3" height="13.7" fill="#c0c0c0"/><rect x="446" y="396.3" width="3" height="14.7" fill="#c0c0c0"/><rect x="450" y="393.5" width="3" height="17.5" fill="#c0c0c0"/><rect x="454" y="392.3" width="3" height="18.7" fill="#c0c0c0"/><rect x="458" y="392.6" width="3" height="18.4" fill="#c0c0c0"/><rect x="462" y="393.4" width="3" height="17.6" fill="#c0c0c0"/><rect x="466" y="396.1" width="3" height="14.9" fill="#c0c0c0"/><rect x="470" y="397.0" width="3" height="14.0" fill="#c0c0c0"/><rect x="474" y="398.0" width="3" height="13.0" fill="#c0c0c0"/><rect x="478" y="398.7" width="3" height="12.3" fill="#c0c0c0"/><rect x="482" y="400.2" width="3" height="10.8" fill="#c0c0c0"/><rect x="486" y="400.9" width="3" height="10.1" fill="#c0c0c0"/><rect x="490" y="401.8" width="3" height="9.2" fill="#c0c0c0"/><rect x="494" y="401.2" width="3" height="9.8" fill="#c0c0c0"/><rect x="498" y="403.7" width="3" height="7.3" fill="#c0c0c0"/><rect x="502" y="405.6" width="3" height="5.4" fill="#c0c0c0"/><rect x="506" y="407.9" width="3" height="3.1" fill="#c0c0c0"/><rect x="510" y="409.4" width="3" height="1.6" fill="#c0c0c0"/><rect x="514" y="410.6" width="3" height="0.5" fill="#c0c0c0"/><rect x="518" y="411.0" width="3" height="0.7" fill="#c0c0c0"/><rect x="522" y="411.0" width="3" height="3.4" fill="#c0c0c0"/><rect x="526" y="411.0" width="3" height="5.8" fill="#c0c0c0"/><rect x="530" y="411.0" width="3" height="8.5" fill="#c0c0c0"/><rect x="534" y="411.0" width="3" height="10.2" fill="#c0c0c0"/><rect x="538" y="411.0" width="3" height="10.0" fill="#c0c0c0"/><rect x="542" y="411.0" width="3" height="9.9" fill="#c0c0c0"/><rect x="546" y="411.0" width="3" height="10.4" fill="#c0c0c0"/><rect x="550" y="411.0" width="3" height="13.5" fill="#c0c0c0"/><rect x="554" y="411.0" width="3" height="14.1" fill="#c0c0c0"/><rect x="558" y="411.0" width="3" height="14.0" fill="#c0c0c0"/><rect x="562" y="411.0" width="3" height="16.8" fill="#c0c0c0"/><rect x="566" y="411.0" width="3" height="16.4" fill="#c0c0c0"/><rect x="570" y="411.0" width="3" height="17.5" fill="#c0c0c0"/><rect x="574" y="411.0" width="3" height="17.5" fill="#c0c0c0"/><rect x="578" y="411.0" width="3" height="17.4" fill="#c0c0c0"/><rect x="582" y="411.0" width="3" height="17.3" fill="#c0c0c0"/><rect x="586" y="411.0" width="3" height="16.4" fill="#c0c0c0"/><rect x="590" y="411.0" width="3" height="16.6" fill="#c0c0c0"/><rect x="594" y="411.0" width="3" height="13.5" fill="#c0c0c0"/><rect x="598" y="411.0" width="3" height="9.5" fill="#c0c0c0"/><rect x="602" y="411.0" width="3" height="6.6" fill="#c0c0c0"/><rect x="606" y="411.0" width="3" height="3.9" fill="#c0c0c0"/><rect x="610" y="411.0" width="3" height="0.5" fill="#c0c0c0"/><rect x="614" y="405.7" width="3" height="5.3" fill="#c0c0c0"/><rect x="618" y="402.5" width="3" height="8.5" fill="#c0c0c0"/><rect x="622" y="401.3" width="3" height="9.7" fill="#c0c0c0"/><rect x="626" y="399.3" width="3" height="11.7" fill="#c0c0c0"/><rect x="630" y="397.4" width="3" height="13.6" fill="#c0c0c0"/><rect x="634" y="394.7" width="3" height="16.3" fill="#c0c0c0"/><rect x="638" y="392.4" width="3" height="18.6" fill="#c0c0c0"/><rect x="642" y="390.5" width="3" height="20.5" fill="#c0c0c0"/><rect x="646" y="388.8" width="3" height="22.2" fill="#c0c0c0"/><rect x="650" y="393.6" width="3" height="17.4" fill="#c0c0c0"/><rect x="654" y="396.4" width="3" height="14.6" fill="#c0c0c0"/><rect x="658" y="399.4" width="3" height="11.6" fill="#c0c0c0"/><rect x="662" y="403.3" width="3" height="7.7" fill="#c0c0c0"/><rect x="666" y="406.0" width="3" height="5.0" fill="#c0c0c0"/><rect x="670" y="408.6" width="3" height="2.4" fill="#c0c0c0"/><rect x="674" y="411.0" width="3" height="0.5" fill="#c0c0c0"/><rect x="678" y="411.0" width="3" height="2.3" fill="#c0c0c0"/><rect x="682" y="411.0" width="3" height="0.8" fill="#c0c0c0"/><rect x="686" y="411.0" width="3" height="0.5" fill="#c0c0c0"/><rect x="690" y="411.0" width="3" height="1.3" fill="#c0c0c0"/><rect x="694" y="411.0" width="3" height="0.7" fill="#c0c0c0"/><rect x="698" y="411.0" width="3" height="1.5" fill="#c0c0c0"/><rect x="702" y="411.0" width="3" height="1.9" fill="#c0c0c0"/><rect x="706" y="411.0" width="3" height="1.7" fill="#c0c0c0"/><rect x="710" y="411.0" width="3" height="0.7" fill="#c0c0c0"/><rect x="714" y="410.8" width="3" height="0.5" fill="#c0c0c0"/><rect x="718" y="411.0" width="3" height="1.6" fill="#c0c0c0"/><rect x="722" y="411.0" width="3" height="0.8" fill="#c0c0c0"/><rect x="726" y="411.0" width="3" height="0.5" fill="#c0c0c0"/><rect x="730" y="411.0" width="3" height="0.8" fill="#c0c0c0"/><rect x="734" y="411.0" width="3" height="0.6" fill="#c0c0c0"/><rect x="738" y="411.0" width="3" height="2.0" fill="#c0c0c0"/><rect x="742" y="411.0" width="3" height="3.5" fill="#c0c0c0"/><rect x="746" y="411.0" width="3" height="4.4" fill="#c0c0c0"/><rect x="750" y="411.0" width="3" height="5.1" fill="#c0c0c0"/><rect x="754" y="411.0" width="3" height="6.2" fill="#c0c0c0"/><rect x="758" y="411.0" width="3" height="7.1" fill="#c0c0c0"/><rect x="762" y="411.0" width="3" height="9.1" fill="#c0c0c0"/><rect x="766" y="411.0" width="3" height="10.7" fill="#c0c0c0"/><rect x="770" y="411.0" width="3" height="12.6" fill="#c0c0c0"/><rect x="774" y="411.0" width="3" height="13.8" fill="#c0c0c0"/><rect x="778" y="411.0" width="3" height="11.9" fill="#c0c0c0"/><rect x="782" y="411.0" width="3" height="11.2" fill="#c0c0c0"/><rect x="786" y="411.0" width="3" height="10.0" fill="#c0c0c0"/><rect x="790" y="411.0" width="3" height="7.2" fill="#c0c0c0"/><rect x="794" y="411.0" width="3" height="6.1" fill="#c0c0c0"/><rect x="798" y="411.0" width="3" height="5.1" fill="#c0c0c0"/><rect x="802" y="411.0" width="3" height="0.6" fill="#c0c0c0"/><rect x="806" y="409.7" width="3" height="1.3" fill="#c0c0c0"/><rect x="810" y="411.0" width="3" height="1.3" fill="#c0c0c0"/><rect x="814" y="411.0" width="3" height="4.7" fill="#c0c0c0"/><rect x="818" y="411.0" width="3" height="6.0" fill="#c0c0c0"/><rect x="822" y="411.0" width="3" height="6.8" fill="#c0c0c0"/><rect x="826" y="411.0" width="3" height="7.5" fill="#c0c0c0"/><rect x="830" y="411.0" width="3" height="6.5" fill="#c0c0c0"/><rect x="834" y="411.0" width="3" height="6.4" fill="#c0c0c0"/><rect x="838" y="411.0" width="3" height="5.7" fill="#c0c0c0"/><rect x="842" y="411.0" width="3" height="7.3" fill="#c0c0c0"/><rect x="846" y="411.0" width="3" height="8.1" fill="#c0c0c0"/><rect x="850" y="411.0" width="3" height="8.0" fill="#c0c0c0"/><rect x="854" y="411.0" width="3" height="6.2" fill="#c0c0c0"/><rect x="858" y="411.0" width="3" height="2.0" fill="#c0c0c0"/><rect x="862" y="406.7" width="3" height="4.3" fill="#c0c0c0"/><rect x="866" y="401.9" width="3" height="9.1" fill="#c0c0c0"/><rect x="870" y="398.0" width="3" height="13.0" fill="#c0c0c0"/><rect x="874" y="397.1" width="3" height="13.9" fill="#c0c0c0"/><rect x="878" y="399.0" width="3" height="12.0" fill="#c0c0c0"/><rect x="882" y="401.6" width="3" height="9.4" fill="#c0c0c0"/><rect x="886" y="403.1" width="3" height="7.9" fill="#c0c0c0"/><rect x="890" y="402.1" width="3" height="8.9" fill="#c0c0c0"/><rect x="894" y="401.6" width="3" height="9.4" fill="#c0c0c0"/><rect x="898" y="402.2" width="3" height="8.8" fill="#c0c0c0"/><rect x="902" y="401.9" width="3" height="9.1" fill="#c0c0c0"/><rect x="906" y="402.2" width="3" height="8.8" fill="#c0c0c0"/><rect x="910" y="401.9" width="3" height="9.1" fill="#c0c0c0"/></g>
<polyline points="3.5,437.3 7.5,437.3 11.5,437.3 15.5,437.3 19.5,437.1 23.5,436.9 27.5,436.4 31.5,435.8 35.5,435.0 39.5,434.1 43.5,433.1 47.5,431.8 51.5,430.3 55.5,428.9 59.5,427.6 63.5,426.4 67.5,425.6 71.5,425.0 75.5,424.2 79.5,423.5 83.5,423.0 87.5,422.5 91.5,421.5 95.5,419.7 99.5,416.9 103.5,413.4 107.5,409.5 111.5,405.5 115.5,401.4 119.5,397.5 123.5,393.6 127.5,390.3 131.5,388.0 135.5,386.4 139.5,385.3 143.5,384.4 147.5,383.9 151.5,383.7 155.5,383.6 159.5,383.5 163.5,383.3 167.5,383.7 171.5,384.6 175.5,386.2 179.5,388.3 183.5,390.2 187.5,392.3 191.5,394.3 195.5,396.4 199.5,398.5 203.5,400.1 207.5,401.2 211.5,401.9 215.5,402.5 219.5,402.9 223.5,403.1 227.5,403.4 231.5,404.0 235.5,405.0 239.5,406.5 243.5,408.4 247.5,410.5 251.5,412.8 255.5,415.4 259.5,418.0 263.5,420.4 267.5,422.1 271.5,423.0 275.5,422.9 279.5,421.9 283.5,420.2 287.5,417.9 291.5,415.5 295.5,413.1 299.5,411.0 303.5,409.3 307.5,407.9 311.5,406.9 315.5,406.5 319.5,406.4 323.5,406.9 327.5,407.5 331.5,408.0 335.5,408.2 339.5,408.5 343.5,409.1 347.5,409.7 351.5,410.3 355.5,410.8 359.5,411.1 363.5,411.4 367.5,411.5 371.5,411.8 375.5,411.5 379.5,410.8 383.5,410.3 387.5,409.8 391.5,409.3 395.5,408.5 399.5,407.6 403.5,406.7 407.5,405.4 411.5,403.9 415.5,402.3 419.5,400.6 423.5,399.2 427.5,397.8 431.5,396.7 435.5,395.8 439.5,395.0 443.5,394.7 447.5,394.7 451.5,394.8 455.5,394.9 459.5,394.8 463.5,394.8 467.5,394.9 471.5,395.0 475.5,395.2 479.5,395.3 483.5,395.8 487.5,396.6 491.5,397.6 495.5,398.6 499.5,399.7 503.5,400.8 507.5,402.0 511.5,403.3 515.5,404.6 519.5,405.9 523.5,407.3 527.5,409.0 531.5,411.1 535.5,413.0 539.5,414.7 543.5,416.2 547.5,417.5 551.5,419.0 555.5,420.5 559.5,421.7 563.5,422.9 567.5,423.8 571.5,424.6 575.5,425.5 579.5,426.3 583.5,427.1 587.5,427.4 591.5,427.7 595.5,427.6 599.5,426.8 603.5,425.7 607.5,424.2 611.5,422.2 615.5,419.7 619.5,416.9 623.5,414.0 627.5,410.8 631.5,407.8 635.5,404.9 639.5,402.1 643.5,399.4 647.5,397.0 651.5,395.6 655.5,394.9 659.5,394.7 663.5,395.2 667.5,396.1 671.5,397.7 675.5,399.8 679.5,402.3 683.5,404.9 687.5,406.8 691.5,408.6 695.5,410.0 699.5,411.0 703.5,411.7 707.5,412.2 711.5,412.2 715.5,411.9 719.5,412.0 723.5,412.1 727.5,412.0 731.5,412.0 735.5,411.9 739.5,411.9 743.5,412.1 747.5,412.6 751.5,413.1 755.5,413.7 759.5,414.4 763.5,415.3 767.5,416.4 771.5,417.7 775.5,419.1 779.5,420.0 783.5,420.7 787.5,421.3 791.5,421.4 795.5,421.3 799.5,420.8 803.5,419.7 807.5,418.2 811.5,416.8 815.5,416.0 819.5,415.4 823.5,415.0 827.5,415.1 831.5,415.1 835.5,415.3 839.5,415.9 843.5,416.8 847.5,417.6 851.5,417.9 855.5,417.9 859.5,417.4 863.5,416.1 867.5,414.4 871.5,412.2 875.5,410.0 879.5,407.9 883.5,405.9 887.5,404.2 891.5,402.5 895.5,401.2 899.5,400.7 903.5,400.7 907.5,401.2 911.5,401.7" fill="none" stroke="#ff0000" stroke-width="1" shape-rendering="crispEdges"/>
<g shape-rendering="crispEdges">
<line x1="3" y1="464.5" x2="1149" y2="464.5" stroke="#c0c0c0" stroke-width="1" stroke-dasharray="3,3"/>
<line x1="3" y1="489.5" x2="1149" y2="489.5" stroke="#c0c0c0" stroke-width="1" stroke-dasharray="3,3"/>
</g>
<polyline points="3.5,484.5 7.5,484.9 11.5,485.4 15.5,486.5 19.5,483.1 23.5,483.9 27.5,480.0 31.5,479.0 35.5,481.1 39.5,482.8 43.5,480.6 47.5,473.8 51.5,478.9 55.5,478.7 59.5,480.5 63.5,481.4 67.5,482.5 71.5,483.8 75.5,477.6 79.5,478.7 83.5,477.0 87.5,478.0 91.5,468.1 95.5,463.1 99.5,461.5 103.5,461.2 107.5,465.8 111.5,465.7 115.5,466.3 119.5,466.5 123.5,466.7 127.5,468.4 131.5,466.2 135.5,465.4 139.5,462.8 143.5,462.4 147.5,469.6 151.5,468.7 155.5,468.3 159.5,466.5 163.5,465.9 167.5,477.8 171.5,478.3 175.5,478.3 179.5,477.2 183.5,473.7 187.5,477.7 191.5,475.0 195.5,473.5 199.5,474.8 203.5,474.5 207.5,472.3 211.5,476.1 215.5,474.7 219.5,473.7 223.5,474.3 227.5,478.6 231.5,479.8 235.5,483.5 239.5,486.3 243.5,485.5 247.5,485.8 251.5,486.4 255.5,487.4 259.5,483.4 263.5,483.4 267.5,474.2 271.5,473.7 275.5,469.6 279.5,468.2 283.5,469.9 287.5,468.8 291.5,476.8 295.5,476.6 299.5,479.0 303.5,476.7 307.5,474.5 311.5,473.4 315.5,474.9 319.5,475.2 323.5,479.8 327.5,478.8 331.5,478.3 335.5,474.1 339.5,480.1 343.5,479.8 347.5,474.9 351.5,476.4 355.5,476.2 359.5,477.2 363.5,478.5 367.5,477.9 371.5,475.4 375.5,472.4 379.5,470.5 383.5,476.0 387.5,474.8 391.5,474.5 395.5,471.1 399.5,473.5 403.5,474.0 407.5,468.2 411.5,465.4 415.5,466.0 419.5,470.5 423.5,474.4 427.5,472.3 431.5,473.9 435.5,473.6 439.5,474.0 443.5,473.0 447.5,470.3 451.5,467.0 455.5,469.0 459.5,471.7 463.5,472.4 467.5,476.7 471.5,473.8 475.5,474.5 479.5,473.8 483.5,475.9 487.5,474.5 491.5,475.1 495.5,472.2 499.5,478.6 503.5,478.3 507.5,479.8 511.5,479.0 515.5,479.0 519.5,479.5 523.5,483.4 527.5,484.1 531.5,485.8 535.5,484.6 539.5,480.1 543.5,480.7 547.5,482.2 551.5,487.5 555.5,482.6 559.5,481.6 563.5,486.6 567.5,480.8 571.5,483.2 575.5,481.9 579.5,482.0 583.5,482.4 587.5,480.7 591.5,482.6 595.5,475.9 599.5,473.4 603.5,473.9 607.5,473.4 611.5,470.3 615.5,467.0 619.5,469.3 623.5,472.1 627.5,470.1 631.5,469.5 635.5,467.4 639.5,467.0 643.5,466.6 647.5,465.8 651.5,478.9 655.5,476.8 659.5,478.1 663.5,480.3 667.5,479.3 671.5,480.1 675.5,481.6 679.5,480.5 683.5,474.7 687.5,475.6 691.5,479.0 695.5,476.1 699.5,478.3 703.5,477.9 707.5,476.9 711.5,475.4 715.5,475.1 719.5,480.0 723.5,475.9 727.5,476.3 731.5,477.6 735.5,476.6 739.5,479.8 743.5,480.7 747.5,480.1 751.5,479.9 755.5,481.5 759.5,481.6 763.5,484.6 767.5,484.6 771.5,486.4 775.5,485.7 779.5,477.3 783.5,479.6 787.5,478.2 791.5,473.9 795.5,476.8 799.5,476.7 803.5,469.5 807.5,473.5 811.5,480.6 815.5,482.6 819.5,480.2 823.5,479.7 827.5,480.0 831.5,477.2 835.5,478.6 839.5,477.3 843.5,481.4 847.5,480.5 851.5,479.0 855.5,475.7 859.5,471.3 863.5,467.4 867.5,467.5 871.5,467.3 875.5,471.6 879.5,476.4 883.5,478.0 887.5,476.8 891.5,473.2 895.5,473.5 899.5,475.3 903.5,473.7 907.5,474.6 911.5,473.4" fill="none" stroke="#1e90ff" stroke-width="1" shape-rendering="crispEdges"/>
<g shape-rendering="crispEdges" fill="#000">
<rect x="2" y="25" width="1148" height="1"/>
<rect x="2" y="25" width="1" height="485"/>
<rect x="1149" y="25" width="1" height="485"/>
<rect x="2" y="375" width="1148" height="1"/>
<rect x="2" y="377" width="1148" height="1"/>
<rect x="2" y="441" width="1148" height="1"/>
<rect x="2" y="443" width="1148" height="1"/>
<rect x="2" y="509" width="1148" height="1"/>
<rect x="2" y="376" width="1148" height="1" fill="#fff"/>
<rect x="2" y="442" width="1148" height="1" fill="#fff"/>
<rect x="1150" y="42" width="2" height="1"/>
<rect x="1150" y="75" width="2" height="1"/>
<rect x="1150" y="108" width="2" height="1"/>
<rect x="1150" y="142" width="2" height="1"/>
<rect x="1150" y="174" width="2" height="1"/>
<rect x="1150" y="207" width="2" height="1"/>
<rect x="1150" y="273" width="2" height="1"/>
<rect x="1150" y="339" width="2" height="1"/>
<rect x="1150" y="372" width="2" height="1"/>
<rect x="1150" y="379" width="1" height="1"/>
<rect x="1150" y="440" width="1" height="1"/>
<rect x="1150" y="445" width="1" height="1"/>
<rect x="3" y="510" width="1" height="3"/>
<rect x="67" y="510" width="1" height="3"/>
<rect x="131" y="510" width="1" height="3"/>
<rect x="195" y="510" width="1" height="3"/>
<rect x="259" y="510" width="1" height="3"/>
<rect x="323" y="510" width="1" height="3"/>
<rect x="387" y="510" width="1" height="3"/>
<rect x="451" y="510" width="1" height="3"/>
<rect x="515" y="510" width="1" height="3"/>
<rect x="579" y="510" width="1" height="3"/>
<rect x="643" y="510" width="1" height="3"/>
<rect x="707" y="510" width="1" height="3"/>
<rect x="771" y="510" width="1" height="3"/>
<rect x="835" y="510" width="1" height="3"/>
<rect x="899" y="510" width="1" height="3"/>
</g>
<g shape-rendering="crispEdges">
<rect x="2" y="164" width="6" height="6" fill="#00ff00"/><rect x="4" y="166" width="2" height="2" fill="#fff"/>
<rect x="1143" y="164" width="6" height="6" fill="#00ff00"/><rect x="1145" y="166" width="2" height="2" fill="#fff"/>
<rect x="2" y="237" width="6" height="6" fill="#0000ff"/><rect x="4" y="239" width="2" height="2" fill="#fff"/>
<rect x="1143" y="237" width="6" height="6" fill="#0000ff"/><rect x="1145" y="239" width="2" height="2" fill="#fff"/>
<rect x="2" y="308" width="6" height="6" fill="#0000ff"/><rect x="4" y="310" width="2" height="2" fill="#fff"/>
<rect x="1143" y="308" width="6" height="6" fill="#0000ff"/><rect x="1145" y="310" width="2" height="2" fill="#fff"/>
<rect x="0" y="94" width="1" height="2" fill="#ff0000"/>
</g>
<path d="M5.9,36.1 L9.45,31.8 L13,36.1 Z" fill="#000"/>
<text x="18.5" y="36.6" font-size="10" fill="#000" textLength="66.8" lengthAdjust="spacingAndGlyphs" stroke="#000" stroke-width="0.22" >USDCHF-,Daily</text>
<text x="92.8" y="36.6" font-size="10" fill="#000" textLength="140" lengthAdjust="spacingAndGlyphs" stroke="#000" stroke-width="0.22" >0.92419 0.92963 0.92258 0.92556</text>
<text x="7.2" y="389.6" font-size="10" fill="#000" textLength="147.3" lengthAdjust="spacingAndGlyphs" stroke="#000" stroke-width="0.22" >MACD(12,26,9) 0.001689 0.001719</text>
<text x="7.2" y="455.6" font-size="10" fill="#000" textLength="67.5" lengthAdjust="spacingAndGlyphs" stroke="#000" stroke-width="0.22" >RSI(14) 55.5689</text>
<text x="1155.5" y="45.1" font-size="10" fill="#000" textLength="32.5" lengthAdjust="spacingAndGlyphs" stroke="#000" stroke-width="0.22" >0.93740</text>
<text x="1155.5" y="78.1" font-size="10" fill="#000" textLength="32.5" lengthAdjust="spacingAndGlyphs" stroke="#000" stroke-width="0.22" >0.93290</text>
<text x="1155.5" y="111.5" font-size="10" fill="#000" textLength="32.5" lengthAdjust="spacingAndGlyphs" stroke="#000" stroke-width="0.22" >0.92830</text>
<text x="1155.5" y="145.1" font-size="10" fill="#000" textLength="32.5" lengthAdjust="spacingAndGlyphs" stroke="#000" stroke-width="0.22" >0.92370</text>
<text x="1155.5" y="177.6" font-size="10" fill="#000" textLength="32.5" lengthAdjust="spacingAndGlyphs" stroke="#000" stroke-width="0.22" >0.91920</text>
<text x="1155.5" y="210.7" font-size="10" fill="#000" textLength="32.5" lengthAdjust="spacingAndGlyphs" stroke="#000" stroke-width="0.22" >0.91460</text>
<text x="1155.5" y="276.40000000000003" font-size="10" fill="#000" textLength="32.5" lengthAdjust="spacingAndGlyphs" stroke="#000" stroke-width="0.22" >0.90540</text>
<text x="1155.5" y="309.6" font-size="10" fill="#000" textLength="32.5" lengthAdjust="spacingAndGlyphs" stroke="#000" stroke-width="0.22" >0.90090</text>
<text x="1155.5" y="342.8" font-size="10" fill="#000" textLength="32.5" lengthAdjust="spacingAndGlyphs" stroke="#000" stroke-width="0.22" >0.89630</text>
<text x="1155.5" y="375.8" font-size="10" fill="#000" textLength="32.5" lengthAdjust="spacingAndGlyphs" stroke="#000" stroke-width="0.22" >0.89170</text>
<text x="1153.6" y="388" font-size="10" fill="#000" textLength="38" lengthAdjust="spacingAndGlyphs" stroke="#000" stroke-width="0.22" >0.006045</text>
<text x="1153" y="414.8" font-size="10" fill="#000" textLength="18" lengthAdjust="spacingAndGlyphs" stroke="#000" stroke-width="0.22" >0.00</text>
<text x="1153" y="438.3" font-size="10" fill="#000" textLength="41" lengthAdjust="spacingAndGlyphs" stroke="#000" stroke-width="0.22" >-0.005383</text>
<text x="1153" y="454" font-size="10" fill="#000" textLength="15" lengthAdjust="spacingAndGlyphs" stroke="#000" stroke-width="0.22" >100</text>
<text x="1153" y="468" font-size="10" fill="#000" textLength="10" lengthAdjust="spacingAndGlyphs" stroke="#000" stroke-width="0.22" >70</text>
<text x="1153" y="493" font-size="10" fill="#000" textLength="10" lengthAdjust="spacingAndGlyphs" stroke="#000" stroke-width="0.22" >30</text>
<text x="1153" y="506.5" font-size="10" fill="#000" stroke="#000" stroke-width="0.22" >0</text>
<g shape-rendering="crispEdges">
<rect x="1151" y="89.2" width="39" height="10.5" fill="#ff0000" shape-rendering="auto"/>
<rect x="1151" y="123.2" width="39" height="10.5" fill="#000000" shape-rendering="auto"/>
<rect x="1151" y="161.2" width="39" height="10.5" fill="#00ff00" shape-rendering="auto"/>
<rect x="1151" y="234.2" width="39" height="10.5" fill="#0000ff" shape-rendering="auto"/>
<rect x="1151" y="305.2" width="39" height="10.5" fill="#0000ff" shape-rendering="auto"/>
</g>
<text x="1155.5" y="97.6" font-size="10" fill="#fff" textLength="32.5" lengthAdjust="spacingAndGlyphs" >0.93006</text>
<text x="1155.5" y="131.6" font-size="10" fill="#fff" textLength="32.5" lengthAdjust="spacingAndGlyphs" >0.92556</text>
<text x="1155.5" y="169.6" font-size="10" fill="#fff" textLength="32.5" lengthAdjust="spacingAndGlyphs" >0.92008</text>
<text x="1155.5" y="242.6" font-size="10" fill="#fff" textLength="32.5" lengthAdjust="spacingAndGlyphs" >0.91004</text>
<text x="1155.5" y="313.6" font-size="10" fill="#fff" textLength="32.5" lengthAdjust="spacingAndGlyphs" >0.90024</text>
<text x="2.5" y="522.7" font-size="10" fill="#000" textLength="53" lengthAdjust="spacingAndGlyphs" stroke="#000" stroke-width="0.22" >21 May 2021</text>
<text x="66.5" y="522.7" font-size="10" fill="#000" textLength="43.8" lengthAdjust="spacingAndGlyphs" stroke="#000" stroke-width="0.22" >9 Jun 2021</text>
<text x="130.5" y="522.7" font-size="10" fill="#000" textLength="48.6" lengthAdjust="spacingAndGlyphs" stroke="#000" stroke-width="0.22" >28 Jun 2021</text>
<text x="194.5" y="522.7" font-size="10" fill="#000" textLength="45.9" lengthAdjust="spacingAndGlyphs" stroke="#000" stroke-width="0.22" >16 Jul 2021</text>
<text x="258.5" y="522.7" font-size="10" fill="#000" textLength="44.9" lengthAdjust="spacingAndGlyphs" stroke="#000" stroke-width="0.22" >4 Aug 2021</text>
<text x="322.5" y="522.7" font-size="10" fill="#000" textLength="52.2" lengthAdjust="spacingAndGlyphs" stroke="#000" stroke-width="0.22" >23 Aug 2021</text>
<text x="386.5" y="522.7" font-size="10" fill="#000" textLength="51.2" lengthAdjust="spacingAndGlyphs" stroke="#000" stroke-width="0.22" >10 Sep 2021</text>
<text x="450.5" y="522.7" font-size="10" fill="#000" textLength="50.7" lengthAdjust="spacingAndGlyphs" stroke="#000" stroke-width="0.22" >29 Sep 2021</text>
<text x="514.5" y="522.7" font-size="10" fill="#000" textLength="49.4" lengthAdjust="spacingAndGlyphs" stroke="#000" stroke-width="0.22" >18 Oct 2021</text>
<text x="578.5" y="522.7" font-size="10" fill="#000" textLength="47.5" lengthAdjust="spacingAndGlyphs" stroke="#000" stroke-width="0.22" >5 Nov 2021</text>
<text x="642.5" y="522.7" font-size="10" fill="#000" textLength="52.9" lengthAdjust="spacingAndGlyphs" stroke="#000" stroke-width="0.22" >24 Nov 2021</text>
<text x="706.5" y="522.7" font-size="10" fill="#000" textLength="51.2" lengthAdjust="spacingAndGlyphs" stroke="#000" stroke-width="0.22" >13 Dec 2021</text>
<text x="770.5" y="522.7" font-size="10" fill="#000" textLength="50.7" lengthAdjust="spacingAndGlyphs" stroke="#000" stroke-width="0.22" >31 Dec 2021</text>
<text x="834.5" y="522.7" font-size="10" fill="#000" textLength="49.2" lengthAdjust="spacingAndGlyphs" stroke="#000" stroke-width="0.22" >19 Jan 2022</text>
<text x="898.5" y="522.7" font-size="10" fill="#000" textLength="46.4" lengthAdjust="spacingAndGlyphs" stroke="#000" stroke-width="0.22" >7 Feb 2022</text>
<g shape-rendering="crispEdges">
<rect x="0" y="530" width="1190" height="2" fill="#f0f0f0"/>
<rect x="0" y="532" width="1190" height="1" fill="#000000"/>
<rect x="0" y="533" width="1190" height="19" fill="#f0f0f0"/>
<rect x="0" y="552" width="1190" height="2" fill="#fafafa"/>
<rect x="0" y="554" width="1190" height="1" fill="#d4d4d4"/>
<rect x="0" y="555" width="1190" height="1" fill="#bcbcbc"/>
<rect x="0" y="556" width="1190" height="1" fill="#a4a4a4"/>
<rect x="321" y="532" width="106" height="18" fill="#fff"/>
<rect x="321" y="530" width="106" height="2" fill="#f6f6f6"/>
<rect x="320" y="532" width="1" height="19" fill="#000"/><rect x="427" y="532" width="1" height="19" fill="#000"/><rect x="320" y="550" width="108" height="1" fill="#000"/>
<rect x="104" y="535" width="1" height="13" fill="#606060"/>
<rect x="212" y="535" width="1" height="13" fill="#606060"/>
<rect x="536" y="535" width="1" height="13" fill="#606060"/>
<rect x="648" y="535" width="1" height="13" fill="#606060"/>
<rect x="756" y="535" width="1" height="13" fill="#606060"/>
<rect x="836" y="535" width="1" height="13" fill="#606060"/>
<rect x="924" y="535" width="1" height="13" fill="#606060"/>
<rect x="1008" y="535" width="1" height="13" fill="#606060"/>
</g>
<text x="15.7" y="547.3" font-size="12" fill="#707070" textLength="77.5" lengthAdjust="spacingAndGlyphs" >USDX,Weekly</text>
<text x="115.4" y="547.3" font-size="12" fill="#707070" textLength="84.3" lengthAdjust="spacingAndGlyphs" >EURUSD-,Daily</text>
<text x="222.5" y="547.3" font-size="12" fill="#707070" textLength="86.5" lengthAdjust="spacingAndGlyphs" >AUDUSD-,Daily</text>
<text x="332.3" y="547.3" font-size="12" fill="#000" textLength="83.7" lengthAdjust="spacingAndGlyphs" >USDCHF-,Daily</text>
<text x="439.4" y="547.3" font-size="12" fill="#707070" textLength="85.0" lengthAdjust="spacingAndGlyphs" >USDCAD-,Daily</text>
<text x="548.3" y="547.3" font-size="12" fill="#707070" textLength="87.7" lengthAdjust="spacingAndGlyphs" >USDCNH-,Daily</text>
<text x="660" y="547.3" font-size="12" fill="#707070" textLength="83.7" lengthAdjust="spacingAndGlyphs" >XAUUSD-,M30</text>
<text x="767" y="547.3" font-size="12" fill="#707070" textLength="56.8" lengthAdjust="spacingAndGlyphs" >UKOil-,H1</text>
<text x="848.3" y="547.3" font-size="12" fill="#707070" textLength="64.2" lengthAdjust="spacingAndGlyphs" >DJ30-,Daily</text>
<text x="934.9" y="547.3" font-size="12" fill="#707070" textLength="61.7" lengthAdjust="spacingAndGlyphs" >UK100-,H1</text>
<path d="M1168.3,537.7 L1168.3,544.1 L1164.8,540.9 Z" fill="#a0a0a0"/><path d="M1184,537.7 L1184,544.1 L1187.3,540.9 Z" fill="#a0a0a0"/>
<g shape-rendering="crispEdges">
<rect x="6" y="45" width="52" height="25" fill="url(#gRedTop)"/>
<rect x="173" y="45" width="52" height="25" fill="url(#gRedTop)"/>
<rect x="6" y="69" width="109" height="33" fill="url(#gRedLow)"/>
<rect x="117" y="69" width="108" height="33" fill="url(#gRedLow)"/>
<rect x="6" y="45" width="52" height="1" fill="#c81818"/><rect x="173" y="45" width="52" height="1" fill="#c81818"/>
<rect x="6" y="101" width="109" height="1" fill="#9c0404"/><rect x="117" y="101" width="108" height="1" fill="#9c0404"/>
<rect x="10" y="69" width="44" height="1" fill="#9a1010"/><rect x="177" y="69" width="44" height="1" fill="#9a1010"/>
<rect x="60" y="45" width="111" height="22" fill="#c8c8c8"/>
<rect x="61" y="46" width="109" height="20" fill="#ffffff"/>
<rect x="62" y="47" width="19" height="18" fill="url(#gBtn)"/><rect x="81" y="46" width="1" height="20" fill="#c8c8c8"/>
<rect x="151" y="47" width="18" height="18" fill="url(#gBtn)"/><rect x="150" y="46" width="1" height="20" fill="#c8c8c8"/>
</g>
<path d="M68,53.6 L73.2,53.6 L70.6,56.4 Z" fill="#4a5ec8"/><path d="M156.8,56.8 L162.2,56.8 L159.5,53.8 Z" fill="#4a5ec8"/>
<text x="18.3" y="60.4" font-size="12" fill="#fff" textLength="25.2" lengthAdjust="spacingAndGlyphs" >SELL</text>
<text x="186.5" y="60.4" font-size="12" fill="#fff" textLength="23" lengthAdjust="spacingAndGlyphs" >BUY</text>
<text x="122" y="59.4" font-size="11.5" fill="#000" textLength="23.3" lengthAdjust="spacingAndGlyphs" >3.00</text>
<text x="25.8" y="96.3" font-size="11" fill="#fff" textLength="23.6" lengthAdjust="spacingAndGlyphs" font-weight="bold" >0.92</text>
<text x="135.8" y="96.3" font-size="11" fill="#fff" textLength="23.6" lengthAdjust="spacingAndGlyphs" font-weight="bold" >0.92</text>
<text x="54.3" y="96.9" font-size="34.5" fill="#fff" textLength="33.2" lengthAdjust="spacingAndGlyphs" >55</text>
<text x="165.3" y="96.9" font-size="34.5" fill="#fff" textLength="33.2" lengthAdjust="spacingAndGlyphs" >58</text>
<text x="93.2" y="81.2" font-size="13" fill="#fff" font-weight="bold" >6</text>
<text x="204" y="81.2" font-size="13" fill="#fff" font-weight="bold" >1</text>
</svg></body></html>
